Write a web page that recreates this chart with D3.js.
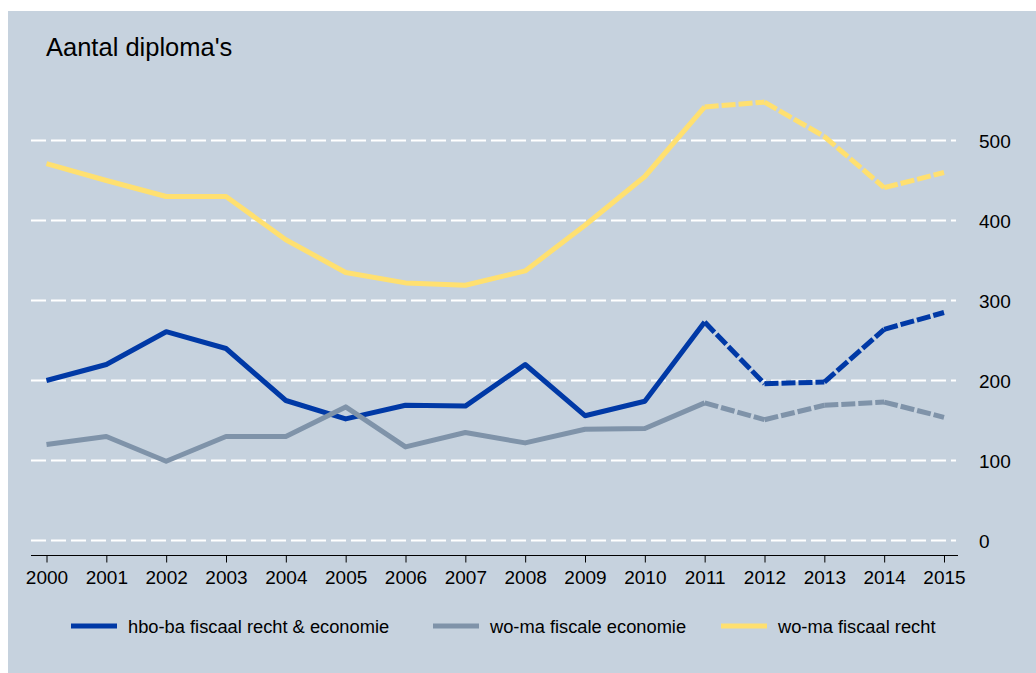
<!DOCTYPE html>
<html>
<head>
<meta charset="utf-8">
<script src="https://cdn.jsdelivr.net/npm/d3@7"></script>
<style>
  body { margin: 0; background: #fff; }
  svg { display: block; font-family: Arial, "Liberation Sans", sans-serif; }
</style>
</head>
<body>
<svg id="chart" width="1036" height="673"></svg>
<script>
const years = [2000, 2001, 2002, 2003, 2004, 2005, 2006, 2007, 2008, 2009, 2010, 2011, 2012, 2013, 2014, 2015];
const hboFiscaal = [200, 220, 261, 240, 175, 152, 169, 168, 220, 156, 174, 273, 196, 198, 264, 285];
const woFiscaleEconomie = [120, 130, 99, 130, 130, 167, 117, 135, 122, 139, 140, 172, 151, 169, 173, 154];
const woFiscaalRecht = [471, 450, 430, 430, 376, 335, 322, 319, 337, 394, 455, 542, 548, 505, 441, 460];
const yTicks = [0, 100, 200, 300, 400, 500];
const dashedFrom = 2011;

const series = [
  { name: "hbo-ba fiscaal recht & economie", values: hboFiscaal, color: "#0039a6" },
  { name: "wo-ma fiscale economie", values: woFiscaleEconomie, color: "#7f93a9" },
  { name: "wo-ma fiscaal recht", values: woFiscaalRecht, color: "#ffe070" }
];

const svg = d3.select("#chart");

// achtergrond
svg.append("rect")
  .attr("x", 8).attr("y", 11)
  .attr("width", 1028).attr("height", 662)
  .attr("fill", "#c6d2de");

const x = d3.scaleLinear().domain([2000, 2015]).range([46.5, 944]);
const y = d3.scaleLinear().domain([0, 500]).range([540.5, 140.5]);

// rasterlijnen
svg.append("g")
  .selectAll("line")
  .data(yTicks)
  .join("line")
    .attr("x1", 31).attr("x2", 956)
    .attr("y1", d => y(d)).attr("y2", d => y(d))
    .attr("stroke", "#fff")
    .attr("stroke-width", 2)
    .attr("stroke-dasharray", "15,5");

// y labels rechts
svg.append("g")
  .selectAll("text")
  .data(yTicks)
  .join("text")
    .attr("x", 979)
    .attr("y", d => y(d) + 7)
    .attr("font-size", 19)
    .attr("fill", "#000")
    .text(d => d);

// x-as
const xAxis = d3.axisBottom(x)
  .tickValues(years)
  .tickFormat(d3.format("d"))
  .tickSize(7)
  .tickSizeOuter(0)
  .tickPadding(8);

const gx = svg.append("g")
  .attr("transform", "translate(0,555.5)")
  .call(xAxis);
gx.select(".domain").remove();
gx.append("line")
  .attr("x1", 31).attr("x2", 958)
  .attr("stroke", "#000").attr("stroke-width", 1);
gx.selectAll(".tick line").attr("stroke", "#000");
gx.selectAll(".tick text")
  .attr("font-size", 19)
  .attr("font-family", "Arial, 'Liberation Sans', sans-serif")
  .attr("fill", "#000");

// lijnen
const line = d3.line()
  .x(d => x(d[0]))
  .y(d => y(d[1]));

series.forEach(s => {
  const pts = years.map((yr, i) => [yr, s.values[i]]);
  const solid = pts.filter(p => p[0] <= dashedFrom);
  const dashed = pts.filter(p => p[0] >= dashedFrom);
  svg.append("path")
    .datum(solid)
    .attr("d", line)
    .attr("fill", "none")
    .attr("stroke", s.color)
    .attr("stroke-width", 5)
    .attr("stroke-linejoin", "round");
  for (let i = 0; i < dashed.length - 1; i++) {
    svg.append("path")
      .datum([dashed[i], dashed[i + 1]])
      .attr("d", line)
      .attr("fill", "none")
      .attr("stroke", s.color)
      .attr("stroke-width", 5)
      .attr("stroke-dasharray", "14,3");
  }
});

// titel
svg.append("text")
  .attr("x", 46).attr("y", 56)
  .attr("font-size", 25.5)
  .attr("fill", "#000")
  .text("Aantal diploma's");

// legenda
const legendX = [71, 433, 721];
const legend = svg.append("g")
  .selectAll("g")
  .data(series)
  .join("g")
    .attr("transform", (d, i) => `translate(${legendX[i]},626)`);

legend.append("line")
  .attr("x1", 0).attr("x2", 46)
  .attr("stroke", d => d.color)
  .attr("stroke-width", 5);

legend.append("text")
  .attr("x", 57).attr("y", 6.5)
  .attr("font-size", 18.3)
  .attr("fill", "#000")
  .text(d => d.name);
</script>
</body>
</html>
